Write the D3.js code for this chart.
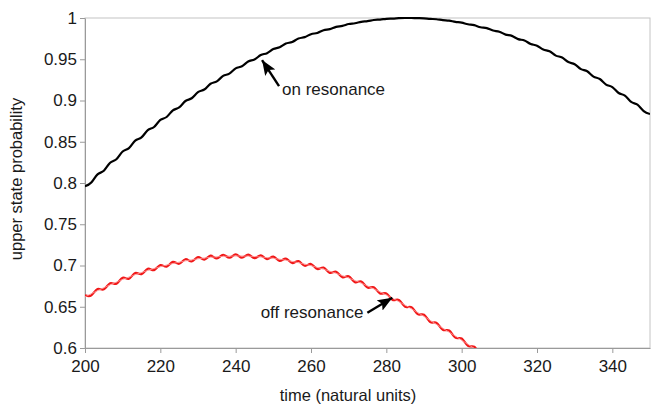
<!DOCTYPE html>
<html>
<head>
<meta charset="utf-8">
<script src="https://cdn.jsdelivr.net/npm/d3@7"></script>
<style>
  body { margin: 0; background: #fff; }
  text { font-family: "Liberation Sans", Arial, sans-serif; fill: #1a1a1a; }
</style>
</head>
<body>
<script>
// time samples, read at the peaks/troughs of the small fast wiggle
var times = [200, 201.67, 203.33, 205, 206.67, 208.33, 210, 211.67, 213.33, 215, 216.67, 218.33,
  220, 221.67, 223.33, 225, 226.67, 228.33, 230, 231.67, 233.33, 235, 236.67, 238.33,
  240, 241.67, 243.33, 245, 246.67, 248.33, 250, 251.67, 253.33, 255, 256.67, 258.33,
  260, 261.67, 263.33, 265, 266.67, 268.33, 270, 271.67, 273.33, 275, 276.67, 278.33,
  280, 281.67, 283.33, 285, 286.67, 288.33, 290, 291.67, 293.33, 295, 296.67, 298.33,
  300, 301.67, 303.33, 305, 306.67, 308.33, 310, 311.67, 313.33, 315, 316.67, 318.33,
  320, 321.67, 323.33, 325, 326.67, 328.33, 330, 331.67, 333.33, 335, 336.67, 338.33,
  340, 341.67, 343.33, 345, 346.67, 348.33, 350];

var onResonance = [0.7961, 0.8005, 0.8105, 0.8148, 0.8246, 0.8288, 0.8382, 0.8423, 0.8514, 0.8553,
  0.8641, 0.8679, 0.8764, 0.8800, 0.8881, 0.8916, 0.8994, 0.9027, 0.9101, 0.9133,
  0.9203, 0.9232, 0.9298, 0.9326, 0.9389, 0.9415, 0.9473, 0.9497, 0.9551, 0.9574,
  0.9624, 0.9645, 0.9690, 0.9709, 0.9751, 0.9768, 0.9804, 0.9819, 0.9851, 0.9865,
  0.9893, 0.9904, 0.9927, 0.9936, 0.9954, 0.9962, 0.9976, 0.9981, 0.9990, 0.9993,
  0.9998, 1.0000, 1.0000, 0.9998, 0.9996, 0.9989, 0.9985, 0.9974, 0.9968, 0.9953,
  0.9944, 0.9924, 0.9913, 0.9888, 0.9877, 0.9848, 0.9834, 0.9799, 0.9783, 0.9744,
  0.9727, 0.9685, 0.9665, 0.9617, 0.9596, 0.9544, 0.9521, 0.9466, 0.9440, 0.9380,
  0.9354, 0.9290, 0.9261, 0.9193, 0.9163, 0.9091, 0.9059, 0.8983, 0.8949, 0.8871, 0.8836];

var offResonance = [0.6639, 0.6638, 0.6715, 0.6711, 0.6786, 0.6779, 0.6851, 0.6840, 0.6909, 0.6895,
  0.6960, 0.6944, 0.7005, 0.6986, 0.7044, 0.7021, 0.7076, 0.7049, 0.7101, 0.7071,
  0.7119, 0.7086, 0.7130, 0.7094, 0.7135, 0.7095, 0.7133, 0.7089, 0.7123, 0.7076,
  0.7107, 0.7056, 0.7084, 0.7030, 0.7054, 0.6997, 0.7018, 0.6957, 0.6975, 0.6911,
  0.6925, 0.6858, 0.6869, 0.6798, 0.6806, 0.6732, 0.6737, 0.6661, 0.6662, 0.6583,
  0.6582, 0.6499, 0.6495, 0.6410, 0.6403, 0.6314, 0.6305, 0.6220, 0.6212, 0.6125,
  0.6115, 0.6025, 0.6015, 0.5920, 0.5900];

// the thin pale line running through the red wiggle
var offResonanceSmooth = [0.6619, 0.6658, 0.6695, 0.6731, 0.6766, 0.6799, 0.6831, 0.6860, 0.6889, 0.6915,
  0.6940, 0.6964, 0.6985, 0.7006, 0.7024, 0.7041, 0.7056, 0.7069, 0.7081, 0.7091,
  0.7099, 0.7106, 0.7110, 0.7114, 0.7115, 0.7115, 0.7113, 0.7109, 0.7103, 0.7096,
  0.7087, 0.7076, 0.7064, 0.7050, 0.7034, 0.7017, 0.6998, 0.6977, 0.6955, 0.6931,
  0.6905, 0.6878, 0.6849, 0.6818, 0.6786, 0.6752, 0.6717, 0.6681, 0.6642, 0.6603,
  0.6562, 0.6519, 0.6475, 0.6430, 0.6383, 0.6334, 0.6285, 0.6240, 0.6192, 0.6145,
  0.6095, 0.6045, 0.5995, 0.5940, 0.5880];

var xTicks = [200, 220, 240, 260, 280, 300, 320, 340];
var yTicks = [0.6, 0.65, 0.7, 0.75, 0.8, 0.85, 0.9, 0.95, 1];

var width = 654, height = 404;
var margin = { top: 18, right: 4, bottom: 56, left: 85 };

var svg = d3.select("body").append("svg").attr("width", width).attr("height", height);

var x = d3.scaleLinear().domain([200, 350]).range([margin.left, width - margin.right]);
var y = d3.scaleLinear().domain([0.6, 1]).range([height - margin.bottom, margin.top]);

svg.append("defs").append("clipPath").attr("id", "plot")
  .append("rect")
  .attr("x", x(200)).attr("y", y(1) - 2)
  .attr("width", x(350) - x(200)).attr("height", y(0.6) - y(1) + 2);

svg.select("defs").append("marker")
  .attr("id", "head")
  .attr("viewBox", "0 0 15 12")
  .attr("refX", 15).attr("refY", 6)
  .attr("markerWidth", 15).attr("markerHeight", 12)
  .attr("markerUnits", "userSpaceOnUse")
  .attr("orient", "auto")
  .append("path")
  .attr("d", "M0,0 L15,6 L0,12 L3,6 z")
  .attr("fill", "#000");

// frame (top and right edges)
svg.append("rect")
  .attr("x", x(200)).attr("y", y(1))
  .attr("width", x(350) - x(200)).attr("height", y(0.6) - y(1))
  .attr("fill", "none").attr("stroke", "#c4c4c4").attr("stroke-width", 1);

var xAxis = svg.append("g")
  .attr("transform", "translate(0," + y(0.6) + ")")
  .call(d3.axisBottom(x).tickValues(xTicks).tickSize(5).tickPadding(7).tickSizeOuter(0));
var yAxis = svg.append("g")
  .attr("transform", "translate(" + x(200) + ",0)")
  .call(d3.axisLeft(y).tickValues(yTicks).tickSize(5).tickPadding(3).tickSizeOuter(0)
    .tickFormat(function (d) { return d3.format("")(+d.toFixed(2)); }));

[xAxis, yAxis].forEach(function (g) {
  g.selectAll("path, line").attr("stroke", "#9a9a9a");
  g.selectAll("text").attr("font-size", 17).attr("font-family", "Liberation Sans, Arial, sans-serif").attr("fill", "#1a1a1a");
});

svg.append("text")
  .attr("x", 348).attr("y", 401)
  .attr("text-anchor", "middle")
  .attr("font-size", 16.5)
  .text("time (natural units)");

svg.append("text")
  .attr("transform", "translate(22,179) rotate(-90)")
  .attr("text-anchor", "middle")
  .attr("font-size", 16.5)
  .text("upper state probability");

var line = d3.line()
  .x(function (d, i) { return x(times[i]); })
  .y(function (d) { return y(d); })
  .curve(d3.curveNatural);

var plot = svg.append("g").attr("clip-path", "url(#plot)");

plot.append("path").datum(offResonance)
  .attr("d", line)
  .attr("fill", "none").attr("stroke", "#f01818").attr("stroke-width", 2.2);
plot.append("path").datum(offResonanceSmooth)
  .attr("d", line)
  .attr("fill", "none").attr("stroke", "#ff9090").attr("stroke-width", 0.9);

plot.append("path").datum(onResonance)
  .attr("d", line)
  .attr("fill", "none").attr("stroke", "#000").attr("stroke-width", 2.2);

// annotations
var onTip = [247, 0.949], offTip = [281.6, 0.661];

svg.append("line")
  .attr("x1", x(onTip[0]) + 17).attr("y1", y(onTip[1]) + 26)
  .attr("x2", x(onTip[0])).attr("y2", y(onTip[1]))
  .attr("stroke", "#000").attr("stroke-width", 2.4)
  .attr("marker-end", "url(#head)");
svg.append("text")
  .attr("x", x(onTip[0]) + 20).attr("y", y(onTip[1]) + 35)
  .attr("font-size", 17)
  .text("on resonance");

svg.append("line")
  .attr("x1", x(offTip[0]) - 25).attr("y1", y(offTip[1]) + 15)
  .attr("x2", x(offTip[0])).attr("y2", y(offTip[1]))
  .attr("stroke", "#000").attr("stroke-width", 2.4)
  .attr("marker-end", "url(#head)");
svg.append("text")
  .attr("x", x(offTip[0]) - 29).attr("y", y(offTip[1]) + 20)
  .attr("text-anchor", "end")
  .attr("font-size", 17)
  .text("off resonance");
</script>
</body>
</html>
